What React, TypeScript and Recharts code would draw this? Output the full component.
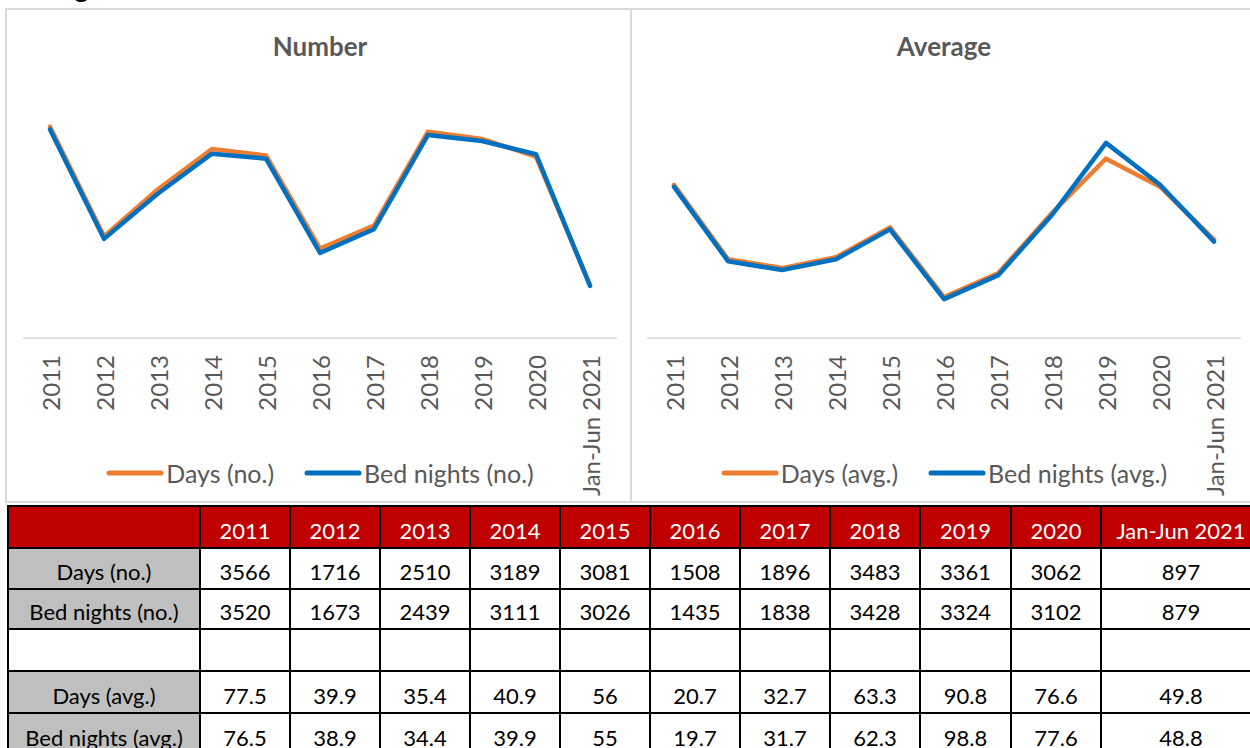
import React from 'react';
import { LineChart, Line, XAxis, YAxis, Legend } from 'recharts';

const years = ['2011', '2012', '2013', '2014', '2015', '2016', '2017', '2018', '2019', '2020', 'Jan-Jun 2021'];
const daysNo = [3566, 1716, 2510, 3189, 3081, 1508, 1896, 3483, 3361, 3062, 897];
const bedNo = [3520, 1673, 2439, 3111, 3026, 1435, 1838, 3428, 3324, 3102, 879];
const daysAvg = [77.5, 39.9, 35.4, 40.9, 56, 20.7, 32.7, 63.3, 90.8, 76.6, 49.8];
const bedAvg = [76.5, 38.9, 34.4, 39.9, 55, 19.7, 31.7, 62.3, 98.8, 77.6, 48.8];

const ORANGE = '#ED7D31';
const BLUE = '#0070C0';
const GREY_TXT = '#595959';
const FONT = 'Lato, "Open Sans", sans-serif';

const numberData = years.map((y, i) => ({ year: y, days: daysNo[i], bed: bedNo[i] }));
const avgData = years.map((y, i) => ({ year: y, days: daysAvg[i], bed: bedAvg[i] }));

const RotTick = (props: any) => {
  const { x, y, payload } = props;
  return (
    <text
      transform={`translate(${x},${y + 9}) rotate(-90)`}
      textAnchor="end"
      dominantBaseline="central"
      fill={GREY_TXT}
      fontSize={24}
      fontFamily={FONT}
    >
      {payload.value}
    </text>
  );
};

const LegendContent = (props: any) => {
  const order: string[] = props.order || [];
  const items = [...(props.payload || [])].sort((a: any, b: any) => order.indexOf(a.value) - order.indexOf(b.value));
  return (
    <div style={{ display: 'flex', justifyContent: 'center', alignItems: 'center', height: 40, gap: 30 }}>
      {items.map((p: any) => (
        <div key={p.value} style={{ display: 'flex', alignItems: 'center' }}>
          <svg width={58} height={10}>
            <line x1={3} y1={5} x2={55} y2={5} stroke={p.color} strokeWidth={5} strokeLinecap="round" />
          </svg>
          <span style={{ marginLeft: 2 }}>{p.value}</span>
        </div>
      ))}
    </div>
  );
};

interface PanelProps {
  title: string;
  data: any[];
  domain: [number, number];
  daysName: string;
  bedName: string;
  width: number;
  marginLeft: number;
  marginRight: number;
}

const Panel = ({ title, data, domain, daysName, bedName, width, marginLeft, marginRight }: PanelProps) => {
  const plotW = width - marginLeft - marginRight;
  return (
    <div style={{ position: 'relative', width, height: 491 }}>
      <div
        style={{
          position: 'absolute', left: marginLeft, width: plotW, top: 20, textAlign: 'center',
          fontFamily: FONT, fontWeight: 700, fontSize: 26, color: GREY_TXT,
        }}
      >
        {title}
      </div>
      <LineChart width={width} height={491} data={data} margin={{ top: 91, right: marginRight, left: marginLeft, bottom: 8 }}>
        <XAxis
          dataKey="year"
          interval={0}
          tick={<RotTick />}
          tickLine={false}
          axisLine={{ stroke: '#d9d9d9', strokeWidth: 1.5 }}
          padding={{ left: 27, right: 27 }}
          height={115}
        />
        <YAxis hide type="number" domain={domain} />
        <Legend
          verticalAlign="bottom"
          height={40}
          content={<LegendContent order={[daysName, bedName]} />}
          wrapperStyle={{ fontFamily: FONT, fontSize: 25, color: GREY_TXT }}
        />
        <Line type="linear" dataKey="days" name={daysName} stroke={ORANGE} strokeWidth={4.5}
          strokeLinecap="round" strokeLinejoin="round" dot={false} activeDot={false} isAnimationActive={false} />
        <Line type="linear" dataKey="bed" name={bedName} stroke={BLUE} strokeWidth={4.5}
          strokeLinecap="round" strokeLinejoin="round" dot={false} activeDot={false} isAnimationActive={false} />
      </LineChart>
    </div>
  );
};

const rows = [
  { label: 'Days (no.)', values: daysNo, grey: true },
  { label: 'Bed nights (no.)', values: bedNo, grey: true },
  { label: '', values: null, grey: false },
  { label: 'Days (avg.)', values: daysAvg, grey: true },
  { label: 'Bed nights (avg.)', values: bedAvg, grey: true },
];
const rowHeights = [41, 40, 42, 42, 42];
const colWidths = [192, 90, 90, 90, 90, 90, 90, 90, 90, 91, 90, 160];

const cellBase: React.CSSProperties = {
  border: '2px solid #000',
  textAlign: 'center',
  verticalAlign: 'bottom',
  paddingBottom: 2,
  paddingTop: 0,
  fontFamily: FONT,
  fontSize: 22,
  lineHeight: '28px',
  whiteSpace: 'nowrap',
  overflow: 'hidden',
};

export default function App() {
  return (
    <div style={{ position: 'absolute', left: 0, top: 0, width: 1250, height: 748, overflow: 'hidden', background: '#fff' }}>
      <div style={{ position: 'absolute', left: 2, top: -31, fontFamily: FONT, fontWeight: 700, fontSize: 28, color: '#000' }}>
        Average
      </div>
      <div style={{ position: 'absolute', left: 5, top: 8, width: 627, height: 495, border: '2px solid #d9d9d9', boxSizing: 'border-box', background: '#fff' }}>
        <Panel title="Number" data={numberData} domain={[0, 4000]} daysName="Days (no.)" bedName="Bed nights (no.)"
          width={623} marginLeft={16} marginRight={13} />
      </div>
      <div style={{ position: 'absolute', left: 630, top: 8, width: 640, height: 495, border: '2px solid #d9d9d9', boxSizing: 'border-box', background: '#fff' }}>
        <Panel title="Average" data={avgData} domain={[0, 120]} daysName="Days (avg.)" bedName="Bed nights (avg.)"
          width={636} marginLeft={15} marginRight={27} />
      </div>
      <table style={{ position: 'absolute', left: 7, top: 505, borderCollapse: 'collapse', tableLayout: 'fixed', width: colWidths.reduce((a, b) => a + b, 0) }}>
        <colgroup>
          {colWidths.map((w, i) => <col key={i} style={{ width: w }} />)}
        </colgroup>
        <tbody>
          <tr style={{ height: 42 }}>
            <td style={{ ...cellBase, background: '#C00000' }} />
            {years.map((y) => (
              <td key={y} style={{ ...cellBase, background: '#C00000', color: '#fff' }}>{y}</td>
            ))}
          </tr>
          {rows.map((r, ri) => (
            <tr key={ri} style={{ height: rowHeights[ri] }}>
              <td style={{ ...cellBase, background: r.grey ? '#BFBFBF' : '#fff', color: '#000' }}>{r.label}</td>
              {years.map((y, i) => (
                <td key={y} style={{ ...cellBase, background: '#fff', color: '#000' }}>
                  {r.values ? r.values[i] : ''}
                </td>
              ))}
            </tr>
          ))}
        </tbody>
      </table>
    </div>
  );
}
